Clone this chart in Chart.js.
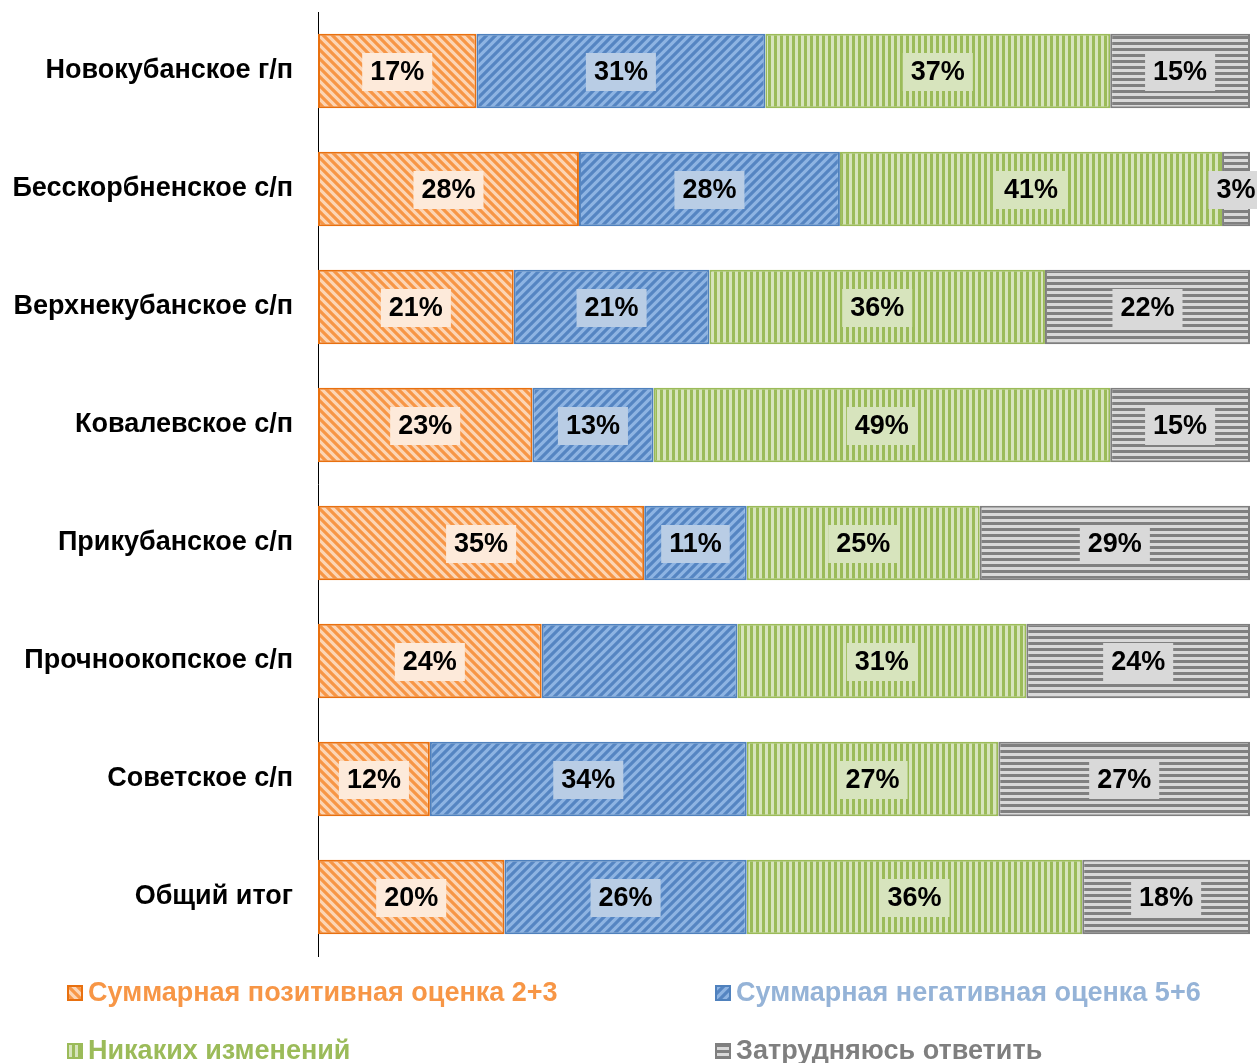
<!DOCTYPE html>
<html>
<head>
<meta charset="utf-8">
<script src="https://cdn.jsdelivr.net/npm/chart.js@4.4.1/dist/chart.umd.min.js"></script>
<style>
  html, body { margin: 0; padding: 0; background: #fff; }
  #wrap { width: 1257px; height: 1063px; position: relative; overflow: hidden; }
</style>
</head>
<body>
<div id="wrap"><canvas id="chart" width="1257" height="1063"></canvas></div>
<script>
// data (percent)
const categories = [
  'Новокубанское г/п',
  'Бесскорбненское с/п',
  'Верхнекубанское с/п',
  'Ковалевское с/п',
  'Прикубанское с/п',
  'Прочноокопское с/п',
  'Советское с/п',
  'Общий итог'
];
const positive = [17, 28, 21, 23, 35, 24, 12, 20];
const negative = [31, 28, 21, 13, 11, 21, 34, 26];
const noChange = [37, 41, 36, 49, 25, 31, 27, 36];
const hardToSay = [15, 3, 22, 15, 29, 24, 27, 18];
const seriesNames = [
  'Суммарная позитивная оценка 2+3',
  'Суммарная негативная оценка 5+6',
  'Никаких изменений',
  'Затрудняюсь ответить'
];
// the reference shows no label on this segment: [series, category]
const hiddenLabels = [[1, 5]];

const FONT = '"Liberation Sans", Arial, sans-serif';

// stripe patterns
function makePattern(type, bg, fg) {
  const c = document.createElement('canvas');
  const s = type === 'v' || type === 'h' ? 6 : 9;
  c.width = s; c.height = s;
  const g = c.getContext('2d');
  g.fillStyle = bg;
  g.fillRect(0, 0, s, s);
  g.strokeStyle = fg;
  g.fillStyle = fg;
  if (type === 'v') {
    g.fillRect(0, 0, 3, s);
  } else if (type === 'h') {
    g.fillRect(0, 0, s, 3);
  } else {
    g.lineWidth = 3.2;
    g.beginPath();
    if (type === 'down') {          // "\" stripes
      g.moveTo(-2, -2); g.lineTo(s + 2, s + 2);
      g.moveTo(-2 - s, -2); g.lineTo(2, s + 2);
      g.moveTo(s - 2, -2); g.lineTo(2 * s + 2, s + 2);
    } else {                        // "/" stripes
      g.moveTo(-2, s + 2); g.lineTo(s + 2, -2);
      g.moveTo(-2 - s, s + 2); g.lineTo(2, -2);
      g.moveTo(s - 2, s + 2); g.lineTo(2 * s + 2, -2);
    }
    g.stroke();
  }
  return document.getElementById('chart').getContext('2d').createPattern(c, 'repeat');
}

const fills = [
  makePattern('down', '#FCD5B5', '#F79646'),
  makePattern('up', '#8EB4E3', '#5585C2'),
  makePattern('v', '#D7E4BD', '#9BBB59'),
  makePattern('h', '#D9D9D9', '#808080')
];
const borders = ['#E8700F', '#4F81BD', '#9BBB59', '#7F7F7F'];
const labelBg = ['#FDEADA', '#B9CDE5', '#D7E4BD', '#D9D9D9'];
const legendText = ['#F79646', '#95B3D7', '#9BBB59', '#7F7F7F'];

const valueLabels = {
  id: 'valueLabels',
  afterDatasetsDraw(chart) {
    const ctx = chart.ctx;
    ctx.save();
    ctx.font = 'bold 27px ' + FONT;
    ctx.textAlign = 'center';
    ctx.textBaseline = 'middle';
    chart.data.datasets.forEach((ds, di) => {
      const meta = chart.getDatasetMeta(di);
      meta.data.forEach((bar, i) => {
        if (hiddenLabels.some(h => h[0] === di && h[1] === i)) return;
        const txt = ds.data[i] + '%';
        const cx = (bar.x + bar.base) / 2;
        const w = ctx.measureText(txt).width + 16;
        ctx.fillStyle = labelBg[di];
        ctx.fillRect(cx - w / 2, bar.y - 18, w, 38);
        ctx.fillStyle = '#000';
        ctx.fillText(txt, cx, bar.y + 2);
      });
    });
    ctx.restore();
  }
};

const bottomLegend = {
  id: 'bottomLegend',
  afterDraw(chart) {
    const ctx = chart.ctx;
    const cols = [67, 715];
    const rows = [993, 1051];
    ctx.save();
    ctx.font = 'bold 27px ' + FONT;
    ctx.textBaseline = 'middle';
    chart.data.datasets.forEach((ds, di) => {
      const x = cols[di % 2];
      const y = rows[Math.floor(di / 2)];
      ctx.fillStyle = fills[di];
      ctx.fillRect(x, y - 8, 16, 16);
      ctx.strokeStyle = borders[di];
      ctx.lineWidth = 2;
      ctx.strokeRect(x + 1, y - 7, 14, 14);
      ctx.fillStyle = legendText[di];
      ctx.fillText(ds.label, x + 21, y + 1);
    });
    ctx.restore();
  }
};

const allSeries = [positive, negative, noChange, hardToSay];

new Chart(document.getElementById('chart'), {
  type: 'bar',
  data: {
    labels: categories,
    datasets: allSeries.map((vals, i) => ({
      label: seriesNames[i],
      data: vals,
      backgroundColor: fills[i],
      borderColor: borders[i],
      borderWidth: 2,
      borderSkipped: false,
      categoryPercentage: 1,
      barPercentage: 0.63
    }))
  },
  options: {
    indexAxis: 'y',
    responsive: false,
    animation: false,
    layout: { padding: { left: 0, right: 7, top: 12, bottom: 107 } },
    plugins: {
      legend: { display: false },
      tooltip: { enabled: false }
    },
    scales: {
      x: {
        stacked: true,
        min: 0,
        max: 100,
        display: false
      },
      y: {
        stacked: true,
        grid: { display: false },
        border: { display: true, color: '#000', width: 1 },
        ticks: {
          color: '#000',
          padding: 17,
          font: { family: FONT, size: 27, weight: 'bold', lineHeight: 1.35 }
        },
        afterFit(scale) {
          scale.width = 318;
          scale.paddingTop = 0;
          scale.paddingBottom = 0;
        }
      }
    }
  },
  plugins: [valueLabels, bottomLegend]
});
</script>
</body>
</html>
